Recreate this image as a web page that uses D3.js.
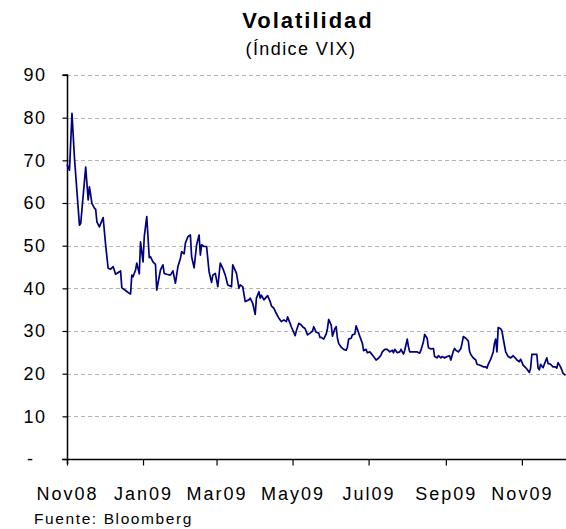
<!DOCTYPE html>
<html>
<head>
<meta charset="utf-8">
<script src="https://cdn.jsdelivr.net/npm/d3@7"></script>
<style>
  html, body { margin: 0; padding: 0; background: #fff; }
  svg { display: block; font-family: "Liberation Sans", Arial, sans-serif; }
</style>
</head>
<body>
<svg id="chart" width="566" height="529"></svg>
<script>
// ---- Data (VIX index) ----
const title = "Volatilidad";
const subtitle = "(Índice VIX)";
const source = "Fuente: Bloomberg";

const dates = [
  "2008-11-18","2008-11-20","2008-11-22","2008-11-24","2008-11-26","2008-11-28","2008-11-29",
  "2008-12-03","2008-12-05","2008-12-06","2008-12-08","2008-12-10","2008-12-11","2008-12-12",
  "2008-12-14","2008-12-17","2008-12-19","2008-12-21","2008-12-23","2008-12-25","2008-12-27",
  "2008-12-30","2008-12-31","2009-01-01","2009-01-04","2009-01-07","2009-01-08","2009-01-09",
  "2009-01-10","2009-01-12","2009-01-13","2009-01-15","2009-01-16","2009-01-18","2009-01-19",
  "2009-01-21","2009-01-23","2009-01-24","2009-01-26","2009-01-28","2009-01-29","2009-02-01",
  "2009-02-03","2009-02-04","2009-02-06","2009-02-09","2009-02-11","2009-02-13","2009-02-15",
  "2009-02-17","2009-02-18","2009-02-20","2009-02-21","2009-02-23","2009-02-25","2009-02-26",
  "2009-02-28","2009-03-02","2009-03-04","2009-03-05","2009-03-06","2009-03-08","2009-03-10",
  "2009-03-12","2009-03-14","2009-03-15","2009-03-17","2009-03-19","2009-03-21","2009-03-23",
  "2009-03-25","2009-03-27","2009-03-30","2009-03-31","2009-04-03","2009-04-05","2009-04-06",
  "2009-04-08","2009-04-10","2009-04-13","2009-04-14","2009-04-16","2009-04-18","2009-04-19",
  "2009-04-21","2009-04-22","2009-04-23","2009-04-25","2009-04-27","2009-04-28","2009-04-30",
  "2009-05-01","2009-05-03","2009-05-05","2009-05-07","2009-05-09","2009-05-11","2009-05-13",
  "2009-05-14","2009-05-16","2009-05-17","2009-05-20","2009-05-21","2009-05-23","2009-05-25",
  "2009-05-26","2009-05-28","2009-05-30","2009-06-01","2009-06-03","2009-06-04","2009-06-06",
  "2009-06-08","2009-06-09","2009-06-10","2009-06-12","2009-06-14","2009-06-15","2009-06-16",
  "2009-06-18","2009-06-19","2009-06-21","2009-06-22","2009-06-23","2009-06-24","2009-06-26",
  "2009-06-28","2009-06-30","2009-07-01","2009-07-02","2009-07-04","2009-07-05","2009-07-07",
  "2009-07-08","2009-07-09","2009-07-11","2009-07-13","2009-07-14","2009-07-16","2009-07-17",
  "2009-07-19","2009-07-21","2009-07-22","2009-07-24","2009-07-26","2009-07-28","2009-07-29",
  "2009-07-31","2009-08-02","2009-08-04","2009-08-06","2009-08-07","2009-08-08","2009-08-10",
  "2009-08-12","2009-08-13","2009-08-15","2009-08-16","2009-08-18","2009-08-19","2009-08-20",
  "2009-08-23","2009-08-26","2009-08-28","2009-08-29","2009-08-31","2009-09-01","2009-09-03",
  "2009-09-04","2009-09-06","2009-09-08","2009-09-09","2009-09-11","2009-09-12","2009-09-14",
  "2009-09-15","2009-09-17","2009-09-19","2009-09-21","2009-09-22","2009-09-24","2009-09-25",
  "2009-09-26","2009-09-28","2009-09-30","2009-10-01","2009-10-02","2009-10-04","2009-10-06",
  "2009-10-07","2009-10-08","2009-10-10","2009-10-12","2009-10-13","2009-10-16","2009-10-18",
  "2009-10-20","2009-10-21","2009-10-22","2009-10-24","2009-10-26","2009-10-27","2009-10-28",
  "2009-10-29","2009-10-30","2009-11-01","2009-11-02","2009-11-03","2009-11-05","2009-11-07",
  "2009-11-09","2009-11-11","2009-11-13","2009-11-14","2009-11-16","2009-11-17","2009-11-19",
  "2009-11-21","2009-11-22","2009-11-24","2009-11-25","2009-11-26","2009-11-29","2009-11-30",
  "2009-12-01","2009-12-02","2009-12-03","2009-12-05","2009-12-06","2009-12-08","2009-12-09",
  "2009-12-11","2009-12-13","2009-12-15","2009-12-16","2009-12-17","2009-12-19","2009-12-20",
  "2009-12-21","2009-12-23"
];

const vix = [
  69.0,67.7,81.0,70.5,62.6,54.8,55.2,
  68.4,60.7,63.8,59.9,58.8,58.5,55.6,
  54.4,56.6,50.2,44.7,44.5,45.1,43.3,
  43.9,44.1,40.1,39.5,38.8,38.7,43.1,
  42.7,44.3,45.9,43.4,50.9,46.2,52.1,
  56.8,47.2,47.4,46.2,45.6,39.6,44.3,
  45.5,43.5,43.3,43.1,44.1,41.2,45.1,
  47.0,48.6,48.1,50.6,52.1,52.5,47.4,
  44.8,50.2,52.5,47.8,50.2,49.8,49.8,
  43.9,41.4,43.1,43.5,40.4,45.9,44.7,
  43.1,40.8,40.4,45.5,43.5,40.0,40.8,
  40.4,36.9,37.3,37.7,36.5,33.9,37.7,
  39.2,37.7,38.4,37.3,38.0,38.3,36.9,
  35.9,35.3,34.1,33.0,32.2,32.6,32.2,
  33.3,31.8,31.0,28.9,30.0,31.8,31.4,
  31.0,30.6,29.1,29.5,30.0,31.0,29.7,
  29.5,28.5,28.5,28.1,29.3,30.6,32.7,
  31.4,28.8,30.6,31.0,28.3,27.1,26.2,
  25.7,25.5,26.2,28.1,28.3,29.1,29.3,
  31.2,30.4,28.7,27.1,25.4,25.7,24.9,
  25.1,24.4,24.0,23.2,23.6,24.4,25.1,
  25.7,25.7,25.1,25.5,24.9,25.7,24.9,
  25.1,25.7,24.6,25.5,28.1,26.3,25.1,
  25.1,25.1,24.8,25.5,27.5,29.2,28.3,
  26.1,25.8,25.9,24.0,23.7,24.2,23.7,
  24.0,23.7,24.0,24.2,23.2,25.3,25.9,
  25.5,25.1,25.9,27.1,28.7,28.3,27.7,
  25.3,24.5,23.7,23.2,22.2,21.9,21.6,
  21.6,21.3,22.2,23.4,25.1,27.1,28.1,
  25.1,30.8,30.5,30.0,28.3,25.1,24.0,
  23.7,24.2,23.6,23.2,22.8,23.4,22.0,
  21.4,21.1,20.3,21.3,24.5,24.5,24.5,
  21.3,20.9,22.2,21.4,22.2,23.7,22.4,
  22.2,21.6,21.6,21.3,22.6,21.6,20.9,
  20.1,19.6
];

const xTickDates = ["2008-11-18","2009-01-18","2009-03-18","2009-05-18","2009-07-18","2009-09-18","2009-11-18"];
const xTickLabels = ["Nov08","Jan09","Mar09","May09","Jul09","Sep09","Nov09"];
const yTicks = [0,10,20,30,40,50,60,70,80,90];
const yTickLabels = ["-","10","20","30","40","50","60","70","80","90"];
const xDomain = ["2008-11-18","2009-12-23"];

// ---- Drawing ----
(function () {
const parse = d3.utcParse("%Y-%m-%d");
const data = dates.map((d, i) => ({ date: parse(d), value: vix[i] }));

const svg = d3.select("#chart");
const mLeft = 67, mRight = 565.5, mTop = 75, mBottom = 459;

const x = d3.scaleUtc().domain(xDomain.map(parse)).range([mLeft, mRight]);
const y = d3.scaleLinear().domain([0, 90]).range([mBottom, mTop]);

// title
svg.append("text").attr("x", 308).attr("y", 28)
  .attr("text-anchor", "middle").attr("font-size", 22).attr("font-weight", "bold")
  .attr("letter-spacing", 2).attr("fill", "#000").text(title);
svg.append("text").attr("x", 301).attr("y", 55)
  .attr("text-anchor", "middle").attr("font-size", 18)
  .attr("letter-spacing", 1.4).attr("fill", "#000").text(subtitle);

// gridlines
svg.append("g").selectAll("line").data(yTicks.filter(t => t > 0)).join("line")
  .attr("x1", mLeft).attr("x2", 566)
  .attr("y1", d => Math.round(y(d)) + 0.5).attr("y2", d => Math.round(y(d)) + 0.5)
  .attr("stroke", "#b4b4b4").attr("stroke-width", 1).attr("stroke-dasharray", "4,3");

// y axis
const yAxis = d3.axisLeft(y).tickValues(yTicks)
  .tickSize(5).tickPadding(16)
  .tickFormat((d, i) => yTickLabels[i]);
const gy = svg.append("g").attr("transform", `translate(${mLeft + 0.5},0)`).call(yAxis);
gy.select(".domain").attr("stroke", "#000").attr("stroke-width", 1.5).attr("d", `M-5,${mTop}H0V${mBottom + 5}`);
gy.selectAll(".tick line").attr("stroke", "#000").attr("stroke-width", 1.2);
gy.selectAll(".tick text").attr("font-size", 18).attr("letter-spacing", 1.5)
  .attr("fill", "#000").attr("font-family", "Liberation Sans, Arial, sans-serif");
gy.selectAll(".tick").filter(d => d === 0).select("text").attr("x", -33);

// x axis
const xAxis = d3.axisBottom(x).tickValues(xTickDates.map(parse))
  .tickSize(6).tickPadding(22)
  .tickFormat((d, i) => xTickLabels[i]);
const gx = svg.append("g").attr("transform", `translate(0,${mBottom + 0.5})`).call(xAxis);
gx.select(".domain").attr("stroke", "#000").attr("stroke-width", 1.5).attr("d", `M${mLeft - 5},0H566`);
gx.selectAll(".tick line").attr("stroke", "#000").attr("stroke-width", 1.2);
gx.selectAll(".tick text").attr("font-size", 18).attr("letter-spacing", 2)
  .attr("fill", "#000").attr("font-family", "Liberation Sans, Arial, sans-serif");

// line
const line = d3.line().x(d => x(d.date)).y(d => y(d.value));
svg.append("path").datum(data).attr("d", line)
  .attr("fill", "none").attr("stroke", "#000080").attr("stroke-width", 1.7)
  .attr("stroke-linejoin", "round");

// source
svg.append("text").attr("x", 34).attr("y", 524)
  .attr("font-size", 15.5).attr("letter-spacing", 1.6).attr("fill", "#000").text(source);
})();
</script>
</body>
</html>
